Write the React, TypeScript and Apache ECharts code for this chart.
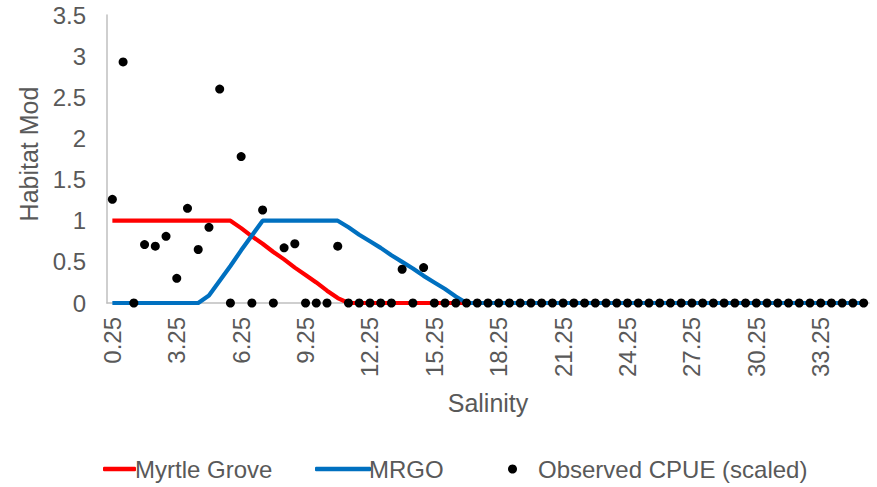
import React, { useEffect, useRef } from "react";
import * as echarts from "echarts";

const salinity = [
  "0.25", "0.75", "1.25", "1.75", "2.25", "2.75", "3.25", "3.75", "4.25", "4.75",
  "5.25", "5.75", "6.25", "6.75", "7.25", "7.75", "8.25", "8.75", "9.25", "9.75",
  "10.25", "10.75", "11.25", "11.75", "12.25", "12.75", "13.25", "13.75", "14.25", "14.75",
  "15.25", "15.75", "16.25", "16.75", "17.25", "17.75", "18.25", "18.75", "19.25", "19.75",
  "20.25", "20.75", "21.25", "21.75", "22.25", "22.75", "23.25", "23.75", "24.25", "24.75",
  "25.25", "25.75", "26.25", "26.75", "27.25", "27.75", "28.25", "28.75", "29.25", "29.75",
  "30.25", "30.75", "31.25", "31.75", "32.25", "32.75", "33.25", "33.75", "34.25", "34.75",
  "35.25",
];

const myrtleGrove = [
  1, 1, 1, 1, 1, 1, 1, 1, 1, 1,
  1, 1, 0.91, 0.81, 0.72, 0.62, 0.53, 0.43, 0.34, 0.25,
  0.15, 0.06, 0, 0, 0, 0, 0, 0, 0, 0,
  0, 0, 0, 0, 0, 0, 0, 0, 0, 0,
  0, 0, 0, 0, 0, 0, 0, 0, 0, 0,
  0, 0, 0, 0, 0, 0, 0, 0, 0, 0,
  0, 0, 0, 0, 0, 0, 0, 0, 0, 0,
  0,
];

const mrgo = [
  0, 0, 0, 0, 0, 0, 0, 0, 0, 0.09,
  0.27, 0.45, 0.64, 0.82, 1, 1, 1, 1, 1, 1,
  1, 1, 0.92, 0.83, 0.75, 0.67, 0.58, 0.5, 0.42, 0.33,
  0.25, 0.17, 0.08, 0, 0, 0, 0, 0, 0, 0,
  0, 0, 0, 0, 0, 0, 0, 0, 0, 0,
  0, 0, 0, 0, 0, 0, 0, 0, 0, 0,
  0, 0, 0, 0, 0, 0, 0, 0, 0, 0,
  0,
];

const observedCpue = [
  1.26, 2.93, 0, 0.71, 0.69, 0.81, 0.3, 1.15, 0.65, 0.92,
  2.6, 0, 1.78, 0, 1.13, 0, 0.67, 0.72, 0, 0,
  0, 0.69, 0, 0, 0, 0, 0, 0.41, 0, 0.43,
  0, 0, 0, 0, 0, 0, 0, 0, 0, 0,
  0, 0, 0, 0, 0, 0, 0, 0, 0, 0,
  0, 0, 0, 0, 0, 0, 0, 0, 0, 0,
  0, 0, 0, 0, 0, 0, 0, 0, 0, 0,
  0,
];

const FONT = "'Liberation Sans', Arial, sans-serif";
const TEXT = "#595959";

export default function App() {
  const ref = useRef<HTMLDivElement>(null);

  useEffect(() => {
    document.body.style.margin = "0";
    if (!ref.current) return;
    const chart = echarts.init(ref.current, null, { renderer: "svg" });
    const legendText = { color: TEXT, fontSize: 24, fontFamily: FONT };
    chart.setOption({
      animation: false,
      backgroundColor: "#ffffff",
      grid: { left: 107, right: 8, top: 15, bottom: 184, containLabel: false },
      legend: [
        {
          data: [{ name: "Myrtle Grove", icon: "roundRect" }],
          left: 98,
          top: 452,
          itemWidth: 33,
          itemHeight: 4.5,
          textStyle: { ...legendText, padding: [0, 0, 0, -6] },
        },
        {
          data: [{ name: "MRGO", icon: "roundRect" }],
          left: 310,
          top: 452,
          itemWidth: 56,
          itemHeight: 4.5,
          textStyle: { ...legendText, padding: [0, 0, 0, -7] },
        },
        {
          data: [{ name: "Observed CPUE (scaled)", icon: "circle" }],
          left: 503,
          top: 452,
          itemWidth: 9,
          itemHeight: 9,
          textStyle: { ...legendText, padding: [0, 0, 0, 16] },
        },
      ],
      xAxis: {
        type: "category",
        data: salinity,
        boundaryGap: true,
        name: "Salinity",
        nameLocation: "middle",
        nameGap: 87,
        nameTextStyle: { color: TEXT, fontSize: 25, fontFamily: FONT, verticalAlign: "top" },
        axisLine: { show: true, lineStyle: { color: "#BFBFBF", width: 1.5 } },
        axisTick: { show: false },
        splitLine: { show: false },
        axisLabel: {
          interval: 5,
          rotate: 90,
          margin: 14,
          color: TEXT,
          fontSize: 24,
          fontFamily: FONT,
        },
      },
      yAxis: {
        type: "value",
        min: 0,
        max: 3.5,
        interval: 0.5,
        name: "Habitat Mod",
        nameLocation: "middle",
        nameGap: 64,
        nameTextStyle: { color: TEXT, fontSize: 25, fontFamily: FONT, padding: [0, 0, 0, 10] },
        axisLine: { show: true, lineStyle: { color: "#BFBFBF", width: 1.5 } },
        axisTick: { show: false },
        splitLine: { show: false },
        axisLabel: { margin: 21, color: TEXT, fontSize: 24, fontFamily: FONT },
      },
      series: [
        {
          name: "Myrtle Grove",
          type: "line",
          data: myrtleGrove,
          symbol: "none",
          lineStyle: { color: "#FF0000", width: 4.2 },
          itemStyle: { color: "#FF0000" },
          z: 2,
        },
        {
          name: "MRGO",
          type: "line",
          data: mrgo,
          symbol: "none",
          lineStyle: { color: "#0070C0", width: 4.2 },
          itemStyle: { color: "#0070C0" },
          z: 3,
        },
        {
          name: "Observed CPUE (scaled)",
          type: "scatter",
          data: observedCpue,
          symbol: "circle",
          symbolSize: 9,
          itemStyle: { color: "#000000", opacity: 1 },
          z: 4,
        },
      ],
    });
    return () => chart.dispose();
  }, []);

  return <div ref={ref} style={{ width: 877, height: 487 }} />;
}
